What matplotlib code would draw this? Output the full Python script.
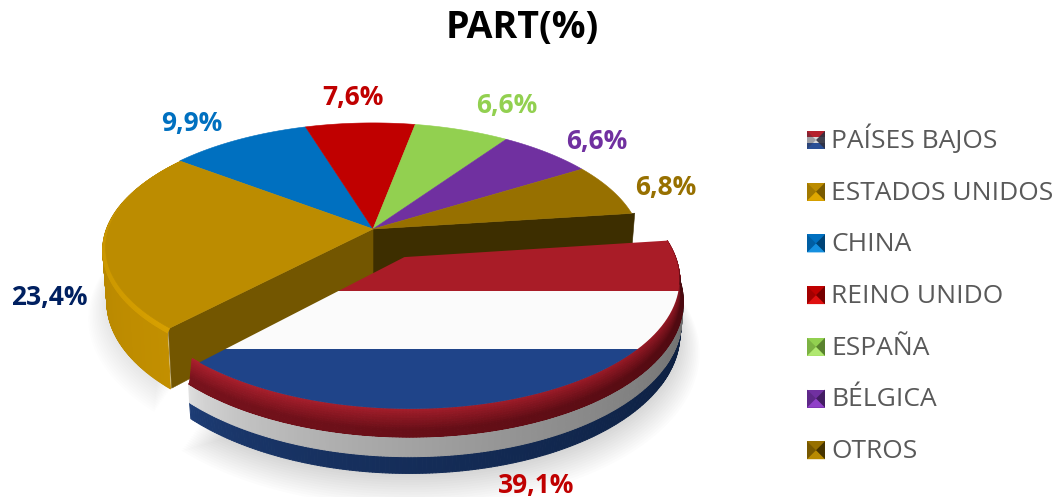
import numpy as np
import matplotlib
matplotlib.use('Agg')
import matplotlib.pyplot as plt
from matplotlib.collections import PolyCollection
from matplotlib.patches import Polygon, Rectangle

plt.rcParams['font.family'] = ['Open Sans', 'DejaVu Sans']

categories = ['PAÍSES BAJOS', 'ESTADOS UNIDOS', 'CHINA', 'REINO UNIDO', 'ESPAÑA', 'BÉLGICA', 'OTROS']
shares = [39.1, 23.4, 9.9, 7.6, 6.6, 6.6, 6.8]
colors = ['#A91C27', '#BC8C00', '#0070C0', '#C00000', '#92D050', '#7030A0', '#977000']
label_colors = ['#C00000', '#002060', '#0070C0', '#C00000', '#92D050', '#7030A0', '#977000']
dark_colors = ['#5C0D14', '#735600', '#003F6E', '#6E0000', '#537A2B', '#3F1B5C', '#3D2E00']

# pixel layout of the pie
CX, CY = 373, 229
R, A, P = 266, 122, 0.15
DEPTH = 53
NL_DEPTH = 50
START = 7.5
EXPLODE = 0.25

edges = START - np.concatenate([[0], np.cumsum(shares)]) * 3.6
mid = np.radians((edges[:-1] + edges[1:]) / 2)
ex, ey = EXPLODE * np.cos(mid[0]), EXPLODE * np.sin(mid[0])


def project(u, v, z=0.0):
    s = 1 / (1 + P * v)
    return np.column_stack([CX + R * u * s * (1 - 0.0003 * z), CY - A * v * s + z * s])


def rim(a0, a1, r=1.0, z=0.0, off=(0, 0), n=80):
    t = np.radians(np.linspace(a0, a1, n))
    return project(r * np.cos(t) + off[0], r * np.sin(t) + off[1], z)


def wedge(a0, a1, r=1.0, z=0.0, off=(0, 0)):
    return np.vstack([project(np.array([off[0]]), np.array([off[1]]), z), rim(a0, a1, r, z, off)])


def blend(c0, c1, t):
    return tuple((np.array(c0) + (np.array(c1) - np.array(c0)) * t) / 255)


def band(ax, a0, a1, r0, z0, r1, z1, col_fn, off=(0, 0), zorder=2, n=240):
    # strip round the rim, colour depends on position along the arc
    outer = rim(a0, a1, r0, z0, off, n + 1)
    inner = rim(a0, a1, r1, z1, off, n + 1)
    quads = [[outer[i], outer[i + 1], inner[i + 1], inner[i]] for i in range(n)]
    cols = [col_fn((i + 0.5) / n) for i in range(n)]
    ax.add_collection(PolyCollection(quads, facecolors=cols, edgecolors=cols, linewidths=0.7, zorder=zorder))


fig = plt.figure(figsize=(10.59, 4.97), dpi=100)
ax = fig.add_axes([0, 0, 1, 1])
ax.set_xlim(0, 1059)
ax.set_ylim(497, 0)
ax.axis('off')

# soft shadows
for i in range(14):
    grow = 1 + i * 0.006
    ax.add_patch(Polygon(rim(edges[0], edges[1], 1.0 * grow, NL_DEPTH + 2 + i, (ex, ey)), closed=True,
                         fc='k', ec='none', alpha=0.011, zorder=1))
    ax.add_patch(Polygon(rim(edges[1], edges[2], 1.0 * grow, DEPTH + i, (0, 0)), closed=True,
                         fc='k', ec='none', alpha=0.009, zorder=1))

# back slices, only the top is visible
for i in range(2, 7):
    ax.add_patch(Polygon(wedge(edges[i + 1], edges[i]), closed=True, fc=colors[i], ec=colors[i], lw=0.4, zorder=4))

# cut faces of the hole left by the exploded slice
for i, a, r in [(6, edges[7], 1.012), (1, edges[1], 1.0)]:
    u = np.array([0.0, r * np.cos(np.radians(a))])
    v = np.array([0.0, r * np.sin(np.radians(a))])
    ax.add_patch(Polygon(np.vstack([project(u, v), project(u, v, DEPTH)[::-1]]), closed=True,
                         fc=dark_colors[i], ec=dark_colors[i], lw=0.4, zorder=3))

# gold slice, side then rim then top
band(ax, edges[2], edges[1], 1.005, 2, 1.005, DEPTH,
     lambda t: blend((172, 127, 0), (194, 143, 0), t), zorder=2)
band(ax, edges[2], edges[1], 0.994, 0, 1.005, 3,
     lambda t: blend((196, 146, 0), (215, 160, 0), t ** 2), zorder=3)
ax.add_patch(Polygon(wedge(edges[2], edges[1], 0.994), closed=True, fc=colors[1], ec=colors[1], lw=0.4, zorder=4))

# exploded slice: side bands, bevel, flag top
off = (ex, ey)
a0, a1 = edges[1], edges[0]
side0 = a0 - 2
white_side = lambda t: blend((226, 226, 226), (100, 100, 100), t ** 0.6)
blue_side = lambda t: blend((30, 62, 120), (11, 28, 58), t ** 0.6)
band(ax, side0, a1, 1.005, 36, 1.003, NL_DEPTH, blue_side, off, zorder=5)
band(ax, side0, a1, 1.005, 20, 1.005, 36, white_side, off, zorder=5)

steps = 16
bevel_r = np.linspace(0.985, 1.005, steps + 1)
bevel_z = 20 * np.sin(np.linspace(0, np.pi / 2, steps + 1)) ** 1.4
for k in range(steps):
    f = (k + 0.5) / steps
    light = blend((178, 34, 48), (120, 18, 28), min(1, f * 1.6))
    deep = blend((150, 24, 36), (70, 8, 14), min(1, f * 1.6))
    band(ax, side0, a1, bevel_r[k], bevel_z[k], bevel_r[k + 1], bevel_z[k + 1],
         lambda t, lo=light, hi=deep: tuple(np.array(lo) + (np.array(hi) - np.array(lo)) * t), off, zorder=6)

face = wedge(a0, a1, 0.985, 0, off)
stripe_y = [face[:, 1].min() - 1, 291, 349, face[:, 1].max() + 1]
stripe_cols = ['#A91C27', '#FBFBFB', '#1F4489']
for j, col in enumerate(stripe_cols):
    p = Polygon(face, closed=True, fc=col, ec='none', zorder=7)
    ax.add_patch(p)
    p.set_clip_path(Rectangle((0, stripe_y[j]), 1059, stripe_y[j + 1] - stripe_y[j], transform=ax.transData))

# value labels, comma decimals as in the original
label_xy = [(536.5, 485), (49, 298), (192, 123), (353, 98), (507, 106), (597, 142), (666, 187)]
for s, col, (x, y) in zip(shares, label_colors, label_xy):
    ax.text(x, y, f'{s:.1f}%'.replace('.', ','), color=col, fontsize=19, fontweight='bold',
            ha='center', va='center', zorder=10)

ax.text(522, 28, 'PART(%)', fontsize=27, fontweight='bold', color='black', ha='center', va='center')

# legend with bevelled keys
bright = ['#3F5F9F', '#E0A800', '#1590E0', '#E01010', '#B0E870', '#9040C8', '#B88A00']
for i, name in enumerate(categories):
    y = 140 + i * 51.7
    x0, x1, y0, y1 = 807, 825, y - 9, y + 9
    xc, yc = (x0 + x1) / 2, y
    if i == 0:
        for j, col in enumerate(['#B5202C', '#D8D8D8', '#2A4F96']):
            ax.add_patch(Rectangle((x0, y0 + j * 6), x1 - x0, 6, fc=col, ec='none', zorder=5))
        side = '#303040'
    else:
        ax.add_patch(Rectangle((x0, y0), x1 - x0, y1 - y0, fc=colors[i], ec='none', zorder=5))
        ax.add_patch(Polygon([(x0, y1), (x1, y1), (xc, yc)], fc=bright[i], ec='none', zorder=5))
        side = dark_colors[i]
    ax.add_patch(Polygon([(x1, y0), (x1, y1), (xc, yc)], fc=side, ec='none', zorder=6, alpha=0.9))
    ax.add_patch(Polygon([(x0, y0), (x0, y1), (xc, yc)], fc=side, ec='none', zorder=6, alpha=0.35))
    ax.text(831, y + 8, name, fontsize=19, color='#595959', ha='left', va='baseline')

fig.savefig('out.png', dpi=100)
